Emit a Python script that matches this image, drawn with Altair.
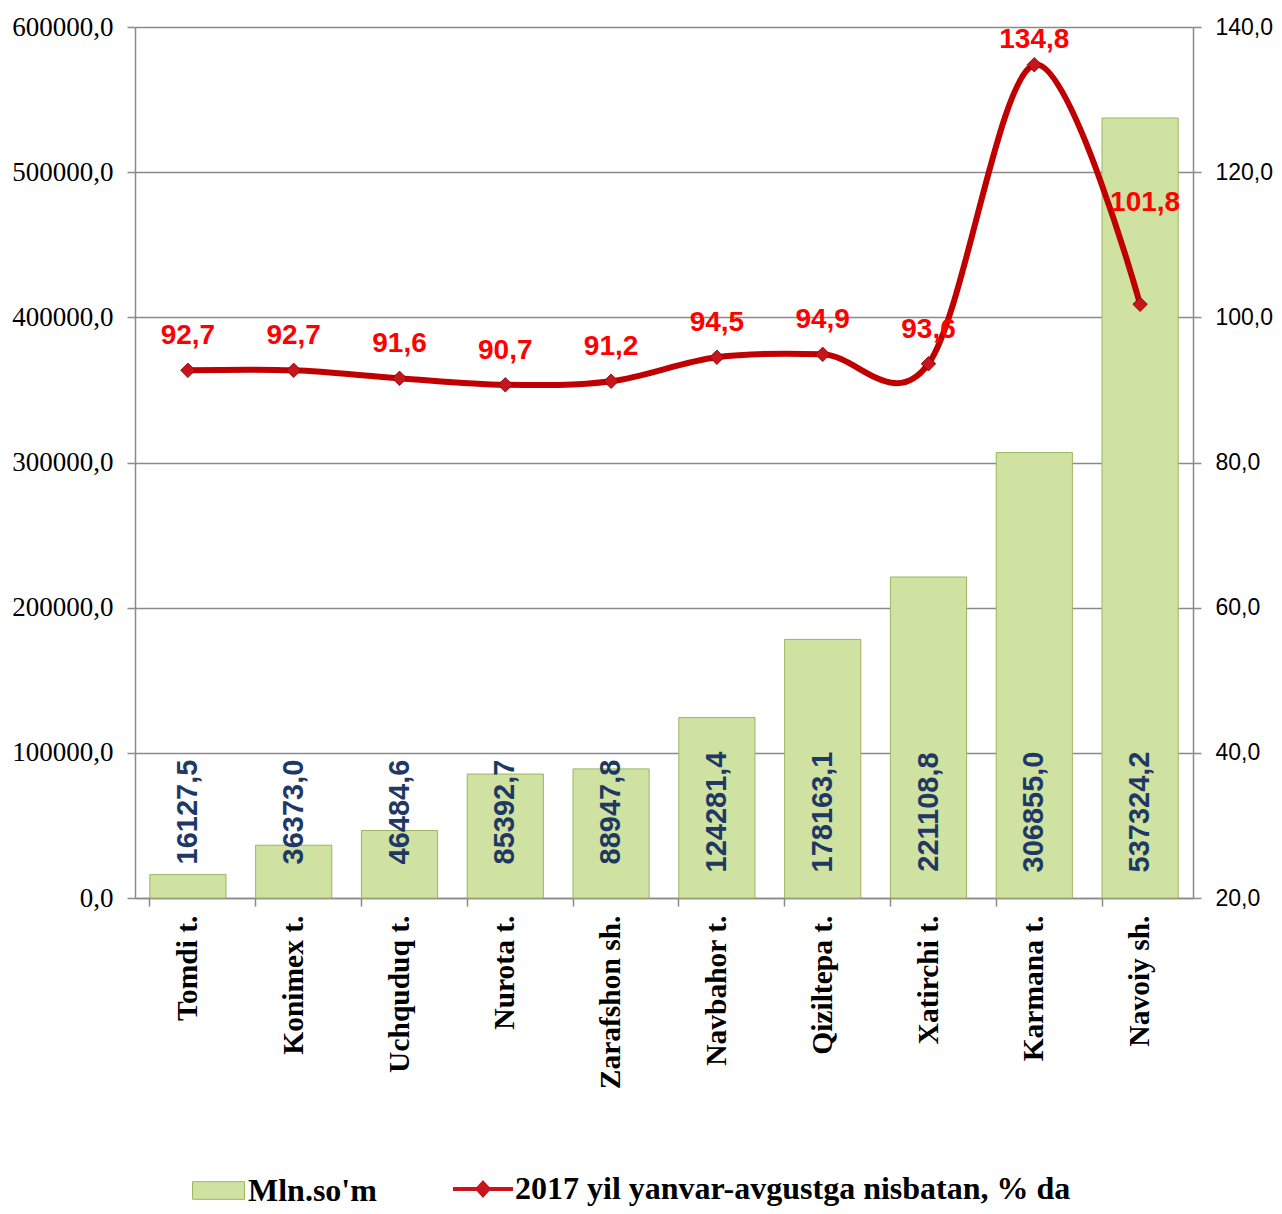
import altair as alt
import pandas as pd

districts = ["Tomdi t.", "Konimex t.", "Uchquduq t.", "Nurota t.", "Zarafshon sh.",
             "Navbahor t.", "Qiziltepa t.", "Xatirchi t.", "Karmana t.", "Navoiy sh."]
mln_som = [16127.5, 36373.0, 46484.6, 85392.7, 88947.8,
           124281.4, 178163.1, 221108.8, 306855.0, 537324.2]
percent = [92.7, 92.7, 91.6, 90.7, 91.2, 94.5, 94.9, 93.6, 134.8, 101.8]
left_ticks = [0, 100000, 200000, 300000, 400000, 500000, 600000]
right_ticks = [20, 40, 60, 80, 100, 120, 140]
bar_series = "Mln.so'm"
line_series = "2017 yil yanvar-avgustga nisbatan, % da"

df = pd.DataFrame({
    "district": districts,
    "value": mln_som,
    "pct": percent,
    "bar_series": bar_series,
    "line_series": line_series,
})

GREY = "#8a8a8a"
SERIF = "Liberation Serif"
comma_fmt = "replace(format(datum.value, '.1f'), '.', ',')"

x_enc = alt.X(
    "district:N", sort=districts,
    scale=alt.Scale(paddingInner=0.28, paddingOuter=0.14),
    axis=alt.Axis(title=None, labelAngle=270, labelAlign="right", labelBaseline="middle",
                  labelFont="Liberation Serif", labelFontWeight="bold", labelFontSize=29.5,
                  labelColor="black", labelPadding=9, labelLimit=400,
                  tickSize=8, tickColor=GREY, tickWidth=1.5, domainColor=GREY,
                  domainWidth=1.5, bandPosition=0, grid=False),
)

left_axis = alt.Axis(orient="left", values=left_ticks, title=None, labelExpr=comma_fmt,
                     labelFont=SERIF, labelFontSize=27, labelPadding=14,
                     tickSize=8, tickColor=GREY, tickWidth=1.5,
                     domainColor=GREY, domainWidth=1.5, grid=True, gridColor=GREY,
                     gridWidth=1.5)
left_scale = alt.Scale(domain=[0, 600000], nice=False)

right_axis = alt.Axis(orient="right", values=right_ticks, title=None, labelExpr=comma_fmt,
                      labelFont="Liberation Sans", labelFontSize=23, labelPadding=14,
                      tickSize=8, tickColor=GREY, tickWidth=1.5,
                      domainColor=GREY, domainWidth=1.5, grid=False)
right_scale = alt.Scale(domain=[20, 140], nice=False)

bars = alt.Chart().mark_bar(stroke="#9cb661", strokeWidth=1).encode(
    x=x_enc,
    y=alt.Y("value:Q", scale=left_scale, axis=left_axis),
    color=alt.Color("bar_series:N", scale=alt.Scale(range=["#d0e2a2"]),
                    legend=alt.Legend(title=None, orient="none", legendX=57, legendY=1137,
                                      symbolType="M-1,-0.34H1V0.34H-1Z", symbolSize=2700,
                                      symbolStrokeColor="#9cb661", symbolStrokeWidth=1,
                                      labelFont="Liberation Serif", labelFontWeight="bold",
                                      labelFontSize=32, labelColor="black", labelOffset=3,
                                      padding=0, labelLimit=600)),
)

y_r = alt.Y("pct:Q", scale=right_scale, axis=right_axis)

# value labels sit at the baseline of the chart (minimum of the right scale = 0 of the left)
bar_text = alt.Chart().transform_calculate(
    base="20",
    vlabel="replace(format(datum.value, '.1f'), '.', ',')",
).mark_text(angle=270, align="center", baseline="middle", dx=86,
            font="Liberation Sans", fontWeight="bold", fontSize=29, color="#1f3864").encode(
    x=x_enc,
    y=alt.Y("base:Q", scale=right_scale, axis=right_axis),
    text="vlabel:N",
)

line = alt.Chart().mark_line(color="#c00000", strokeWidth=6, interpolate="cardinal").encode(
    x=x_enc, y=y_r)

points = alt.Chart().mark_point(shape="diamond", filled=True, size=210, opacity=1,
                                stroke="#7a0000", strokeWidth=0.8).encode(
    x=x_enc, y=y_r,
    fill=alt.Fill("line_series:N", scale=alt.Scale(range=["#c8141c"]),
                  legend=alt.Legend(title=None, orient="none", legendX=318, legendY=1132,
                                    symbolType="M-1,-0.07H1V0.07H-1Z M-0.27,0L0,-0.3L0.27,0L0,0.3Z",
                                    symbolSize=3600, symbolStrokeWidth=0,
                                    labelFont="Liberation Serif", labelFontWeight="bold",
                                    labelFontSize=32, labelColor="black", labelOffset=2,
                                    padding=0, labelLimit=900)),
)

label_base = alt.Chart().transform_calculate(
    plabel="replace(format(datum.pct, '.1f'), '.', ',')")

text_style = dict(font="Liberation Sans", fontWeight="bold", fontSize=28, color="#ff0000",
                  baseline="middle", align="center")

labels_main = label_base.transform_filter(
    "datum.district != 'Karmana t.' && datum.district != 'Navoiy sh.'"
).mark_text(dy=-34, **text_style).encode(x=x_enc, y=y_r, text="plabel:N")

labels_karmana = label_base.transform_filter("datum.district == 'Karmana t.'").mark_text(
    dy=-25, **text_style).encode(x=x_enc, y=y_r, text="plabel:N")

labels_navoiy = label_base.transform_filter("datum.district == 'Navoiy sh.'").mark_text(
    dy=-101, dx=5, **text_style).encode(x=x_enc, y=y_r, text="plabel:N")

right_layer = alt.layer(bar_text, line, points, labels_main, labels_karmana, labels_navoiy)

chart = alt.layer(bars, right_layer, data=df).resolve_scale(
    y="independent"
).properties(
    width=1058, height=871,
    padding={"left": 127, "top": 19, "right": 80, "bottom": 311},
    autosize=alt.AutoSizeParams(type="none"),
).configure_view(stroke=None).configure_axisLeft(
    labelFont=SERIF, labelFontSize=27, labelColor="black"
).configure_axisRight(
    labelFont="Liberation Sans", labelFontSize=23, labelColor="black"
)

chart.save("out.html", embed_options={"renderer": "svg", "actions": False})
